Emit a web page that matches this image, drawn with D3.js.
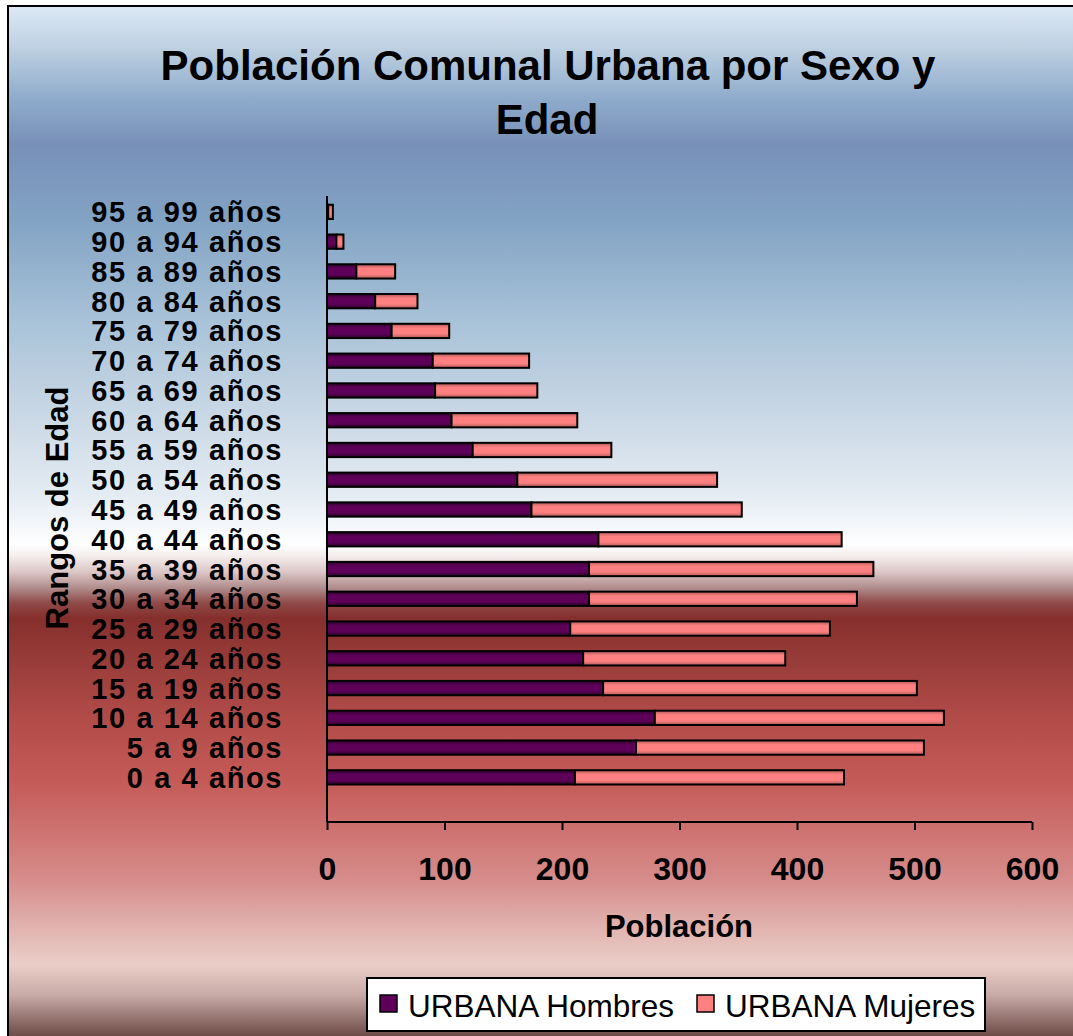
<!DOCTYPE html>
<html>
<head>
<meta charset="utf-8">
<script src="https://cdn.jsdelivr.net/npm/d3@7"></script>
<style>
  html, body { margin: 0; padding: 0; background: #fff; }
  svg { display: block; font-family: "Liberation Sans", Arial, sans-serif; }
</style>
</head>
<body>
<div id="container"></div>
<script>
var categories = ["0 a 4 años", "5 a 9 años", "10 a 14 años", "15 a 19 años", "20 a 24 años",
  "25 a 29 años", "30 a 34 años", "35 a 39 años", "40 a 44 años", "45 a 49 años",
  "50 a 54 años", "55 a 59 años", "60 a 64 años", "65 a 69 años", "70 a 74 años",
  "75 a 79 años", "80 a 84 años", "85 a 89 años", "90 a 94 años", "95 a 99 años"];
var hombres = [211, 263, 279, 235, 218, 207, 223, 223, 231, 174, 162, 124, 106, 92, 90, 55, 41, 25, 8, 1];
var mujeres = [229, 245, 246, 267, 172, 221, 228, 242, 207, 179, 170, 118, 107, 87, 82, 49, 36, 33, 6, 4];
var xTicks = [0, 100, 200, 300, 400, 500, 600];
var seriesNames = ["URBANA Hombres", "URBANA Mujeres"];

var width = 1073, height = 1036;

var svg = d3.select("#container")
  .append("svg")
  .attr("width", width)
  .attr("height", height);

var defs = svg.append("defs");

// excel-style banded background
var bg = defs.append("linearGradient")
  .attr("id", "bg")
  .attr("gradientUnits", "userSpaceOnUse")
  .attr("x1", 0).attr("y1", 0).attr("x2", 0).attr("y2", height);
[[6, "#dde9f5"], [50, "#bccfe1"], [100, "#8eaacb"], [145, "#7890b8"], [220, "#82a3c4"],
 [320, "#a8c2d8"], [420, "#cbd9e6"], [500, "#e6edf4"], [545, "#ffffff"], [556, "#f4eded"],
 [572, "#dcc6c6"], [588, "#b08c8c"], [603, "#8f4a48"], [618, "#852f2d"], [660, "#983c39"],
 [720, "#b24c49"], [780, "#c45a57"], [830, "#cd7270"], [880, "#d68d8b"], [930, "#e2b5b1"],
 [965, "#ebcec8"], [995, "#c8aaa6"], [1036, "#6e4c48"]].forEach(function (s) {
  bg.append("stop").attr("offset", s[0] / height).attr("stop-color", s[1]);
});

function barGradient(id, edge, mid) {
  var g = defs.append("linearGradient")
    .attr("id", id)
    .attr("x1", 0).attr("y1", 0).attr("x2", 0).attr("y2", 1);
  g.append("stop").attr("offset", 0).attr("stop-color", edge);
  g.append("stop").attr("offset", 0.3).attr("stop-color", mid);
  g.append("stop").attr("offset", 0.7).attr("stop-color", mid);
  g.append("stop").attr("offset", 1).attr("stop-color", edge);
}
barGradient("gH", "#2c0029", "#5e0059");
barGradient("gM", "#b05a5a", "#ff8080");

svg.append("rect")
  .attr("x", 8).attr("y", 6)
  .attr("width", width + 10).attr("height", height + 10)
  .attr("fill", "url(#bg)")
  .attr("stroke", "#000")
  .attr("stroke-width", 2);

// title
svg.append("text")
  .attr("x", 548).attr("y", 80)
  .attr("text-anchor", "middle")
  .attr("font-size", 42).attr("font-weight", "bold")
  .text("Población Comunal Urbana por Sexo y");
svg.append("text")
  .attr("x", 547).attr("y", 134)
  .attr("text-anchor", "middle")
  .attr("font-size", 42).attr("font-weight", "bold")
  .text("Edad");

var plot = { left: 327, right: 1032, top: 197, bottom: 822 };

var x = d3.scaleLinear()
  .domain([0, 600])
  .range([plot.left, plot.right]);

// one empty slot under the first category, as in the original axis
var y = d3.scaleBand()
  .domain([""].concat(categories))
  .range([plot.bottom, plot.top])
  .paddingInner(0.52)
  .paddingOuter(0.26);

var rows = categories.map(function (c, i) {
  return { cat: c, h: hombres[i], m: mujeres[i] };
});

var bars = svg.append("g");
bars.selectAll("rect.h")
  .data(rows)
  .enter().append("rect")
  .attr("class", "h")
  .attr("x", x(0))
  .attr("y", function (d) { return y(d.cat); })
  .attr("width", function (d) { return x(d.h) - x(0); })
  .attr("height", y.bandwidth())
  .attr("fill", "url(#gH)")
  .attr("stroke", "#000")
  .attr("stroke-width", 2);

bars.selectAll("rect.m")
  .data(rows)
  .enter().append("rect")
  .attr("class", "m")
  .attr("x", function (d) { return x(d.h); })
  .attr("y", function (d) { return y(d.cat); })
  .attr("width", function (d) { return x(d.h + d.m) - x(d.h); })
  .attr("height", y.bandwidth())
  .attr("fill", "url(#gM)")
  .attr("stroke", "#000")
  .attr("stroke-width", 2);

// category labels
svg.append("g").selectAll("text")
  .data(categories)
  .enter().append("text")
  .attr("x", 283)
  .attr("y", function (d) { return y(d) + y.bandwidth() / 2 + 10.5; })
  .attr("text-anchor", "end")
  .attr("font-size", 29).attr("font-weight", "bold")
  .attr("letter-spacing", 1.6)
  .text(function (d) { return d; });

// axes
var xAxis = d3.axisBottom(x)
  .tickValues(xTicks)
  .tickSize(8)
  .tickFormat(d3.format("d"));
var gx = svg.append("g")
  .attr("transform", "translate(0," + plot.bottom + ")")
  .call(xAxis);
gx.select(".domain").attr("stroke", "#000").attr("stroke-width", 2).attr("d", "M" + plot.left + ",0H" + plot.right);
gx.selectAll(".tick line").attr("stroke", "#000").attr("stroke-width", 2);
gx.selectAll(".tick text")
  .attr("y", 58).attr("dy", 0)
  .attr("fill", "#000")
  .attr("font-size", 32).attr("font-weight", "bold")
  .attr("font-family", "\"Liberation Sans\", Arial, sans-serif");

svg.append("line")
  .attr("x1", plot.left).attr("x2", plot.left)
  .attr("y1", plot.top - 1).attr("y2", plot.bottom)
  .attr("stroke", "#000").attr("stroke-width", 2);

svg.append("text")
  .attr("x", 679).attr("y", 937)
  .attr("text-anchor", "middle")
  .attr("font-size", 31).attr("font-weight", "bold")
  .text("Población");

svg.append("text")
  .attr("transform", "translate(68,508) rotate(-90)")
  .attr("text-anchor", "middle")
  .attr("font-size", 31).attr("font-weight", "bold")
  .text("Rangos de Edad");

// legend
var legend = svg.append("g");
legend.append("rect")
  .attr("x", 367).attr("y", 978)
  .attr("width", 618).attr("height", 53)
  .attr("fill", "#fff")
  .attr("stroke", "#000").attr("stroke-width", 2);

var legendX = [380, 697];
var legendFill = ["#5e0059", "#ff8080"];
seriesNames.forEach(function (name, i) {
  legend.append("rect")
    .attr("x", legendX[i]).attr("y", 995)
    .attr("width", 17).attr("height", 17)
    .attr("fill", legendFill[i])
    .attr("stroke", "#000").attr("stroke-width", 1.5);
  legend.append("text")
    .attr("x", legendX[i] + 28).attr("y", 1017)
    .attr("font-size", 31.5)
    .text(name);
});
</script>
</body>
</html>
